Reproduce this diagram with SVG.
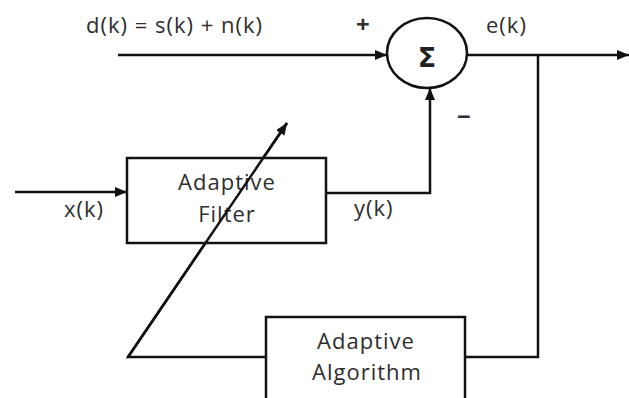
<svg xmlns="http://www.w3.org/2000/svg" width="629" height="398" viewBox="0 0 629 398">
<style>
.ln{fill:none;stroke:#111;stroke-width:2.5}
.bx{fill:#fff;stroke:#111;stroke-width:2.5}
.t{font-family:"Open Sans","DejaVu Sans",sans-serif;font-size:22px;letter-spacing:1px;fill:#2e2e2e}
.c{text-anchor:middle}
.b{font-weight:bold;font-size:24px;letter-spacing:0}
</style>
<defs>
<marker id="ah" markerWidth="12" markerHeight="10" refX="12" refY="5" orient="auto" markerUnits="userSpaceOnUse">
<path d="M0,0 L12,5 L0,10 Z" fill="#111"/>
</marker>
</defs>
<rect width="629" height="398" fill="#fff"/>
<g id="connectors">
<path class="ln" d="M118,55 H387" marker-end="url(#ah)"/>
<path class="ln" d="M467,55 H629" marker-end="url(#ah)"/>
<path class="ln" d="M538,55 V357 H465"/>
<path class="ln" d="M15,192 H127" marker-end="url(#ah)"/>
<path class="ln" d="M326,193 H430 V88" marker-end="url(#ah)"/>
<path class="ln" d="M266,357 H128 L287,123" marker-end="url(#ah)"/>
</g>
<g id="sum">
<ellipse cx="427" cy="53" rx="40" ry="35" fill="#fff" stroke="#111" stroke-width="2.5"/>
<text x="427" y="67" text-anchor="middle" style="font-family:'DejaVu Sans',sans-serif;font-size:27px;font-weight:bold;fill:#222">Σ</text>
</g>
<g id="filter">
<rect class="bx" x="127" y="158" width="199" height="85"/>
<text class="t c" x="227" y="190">Adaptive</text>
<text class="t c" x="227" y="222">Filter</text>
</g>
<g id="algorithm">
<rect class="bx" x="266" y="317" width="199" height="90"/>
<text class="t c" x="366" y="349">Adaptive</text>
<text class="t c" x="367" y="380">Algorithm</text>
</g>
<path class="ln" d="M128,357 L287,123"/>
<g id="labels">
<text class="t" x="86" y="33">d(k) = s(k) + n(k)</text>
<text class="t b" x="356" y="33">+</text>
<text class="t" x="486" y="33">e(k)</text>
<text class="t b" x="457" y="125">−</text>
<text class="t" x="64" y="217">x(k)</text>
<text class="t" x="354" y="216">y(k)</text>
</g>
</svg>
